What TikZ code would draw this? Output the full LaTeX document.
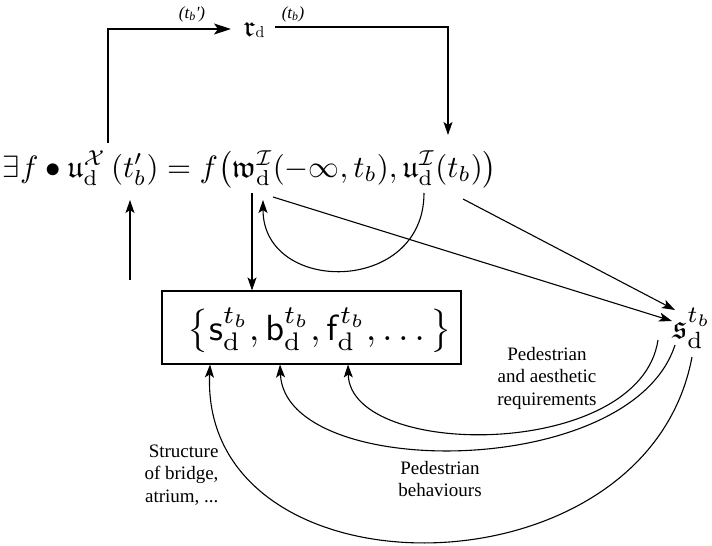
\documentclass[tikz,border=0pt]{standalone}
\usepackage{amsmath,amssymb}
\usepackage[no-math]{fontspec}
\newfontfamily\lib{Liberation Serif}
\usetikzlibrary{arrows.meta}
\newsavebox{\eqbox}
\begin{document}
\sbox{\eqbox}{$\exists f \bullet \mathfrak{u}^{\mathcal{X}}_{\mathrm{d}}\,(t'_b) = f\big(\mathfrak{w}^{\mathcal{I}}_{\mathrm{d}}(-\infty,t_b),\mathfrak{u}^{\mathcal{I}}_{\mathrm{d}}(t_b)\big)$}%
\pgfmathsetmacro{\eqs}{494/\the\wd\eqbox}%
\begin{tikzpicture}[x=1pt,y=-1pt, line width=1.1pt,
  arr/.style={-{Stealth[length=13pt,width=9pt,inset=3pt]}},
  bigarr/.style={-{Stealth[length=17pt,width=11pt,inset=4pt]}},
  lbl/.style={font=\lib\fontsize{19}{22.5}\selectfont, align=center, inner sep=0pt},
  tlbl/.style={font=\lib\itshape\fontsize{17}{19}\selectfont, inner sep=0pt}]
\useasboundingbox (0,0) rectangle (712,546);
% main nodes
\node[inner sep=0pt, anchor=base] (eq) at (250,177) {\scalebox{\eqs}{\usebox{\eqbox}}};
\node[inner sep=0pt, anchor=base west] (rd) at (243,36.5)
  {\resizebox{!}{14pt}{$\mathfrak{r}$}\hspace{0.5pt}\raisebox{-1.5pt}{\resizebox{!}{11pt}{$\mathrm{d}$}}};
\node[inner sep=0pt, anchor=base west] (sd) at (672,338)
  {\resizebox{39pt}{!}{$\mathfrak{s}^{t_b}_{\mathrm{d}}$}};
\node[draw, minimum width=299pt, minimum height=73pt, inner sep=0pt] (box) at (311.5,327.5) {};
\node[inner sep=0pt, anchor=base] (set) at (320,340)
  {\resizebox{264pt}{!}{$\big\{\mathsf{s}^{t_b}_{\mathrm{d}}, \mathsf{b}^{t_b}_{\mathrm{d}}, \mathsf{f}^{t_b}_{\mathrm{d}}, \ldots\big\}$}};
% labels
\node[tlbl] (lt1) at (192,14) {(t\textsubscript{b}')};
\node[tlbl] (lt2) at (293,14) {(t\textsubscript{b})};
\node[lbl] (lreq) at (547,378) {Pedestrian\\and aesthetic\\requirements};
\node[lbl] (lbeh) at (440,479) {Pedestrian\\behaviours};
\node[lbl, align=right, anchor=east] (lstr) at (219,475) {Structure\\of bridge,\\atrium, ...};
% coordinates
\coordinate (eqA) at (108,143);
\coordinate (rdIn) at (231,29);
\coordinate (rdOut) at (275,27);
\coordinate (eqB) at (448,135);
\coordinate (tpIn) at (130,200);
\coordinate (tpFrom) at (130,280);
\coordinate (wOut) at (252,193);
\coordinate (wIn) at (263,200);
\coordinate (uOut) at (424,193);
\coordinate (wLine) at (273,197);
\coordinate (uLine) at (463,199);
\coordinate (sdA) at (672,321);
\coordinate (sdB) at (675,310);
\coordinate (s1) at (658,340);
\coordinate (s2) at (675,345);
\coordinate (s3) at (692,357);
\coordinate (b1) at (348,364.5);
\coordinate (b2) at (280,364.5);
\coordinate (b3) at (210,364.5);
% connectors
\draw[bigarr] (eqA) |- (rdIn);
\draw[arr] (rdOut) -| (eqB);
\draw[arr] (tpFrom) -- (tpIn);
\draw[arr] (wOut) -- (wOut |- box.north);
\draw[arr] (uOut) .. controls (424,295) and (263,295) .. (wIn);
\draw[arr] (wLine) -- (sdA);
\draw[arr] (uLine) -- (sdB);
\draw[arr] (s1) .. controls (640,460) and (350,460) .. (b1);
\draw[arr] (s2) .. controls (631,481) and (285,481) .. (b2);
\draw[arr] (s3) .. controls (646,602) and (200,602) .. (b3);
\end{tikzpicture}
\end{document}
